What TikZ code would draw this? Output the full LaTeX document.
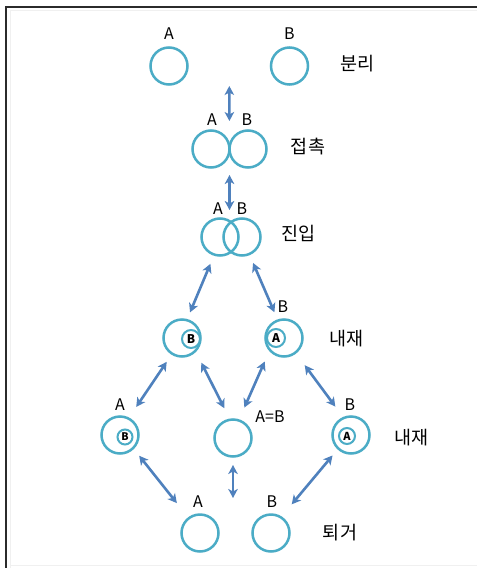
\documentclass[tikz,border=0pt]{standalone}
\usepackage{fontspec}
\setmainfont{Noto Sans CJK KR}
\usetikzlibrary{arrows.meta,calc}
\definecolor{ringc}{HTML}{4BACC6}
\definecolor{arrowc}{HTML}{4F81BD}
\definecolor{framec}{HTML}{2B2B2B}
\tikzset{
  ring/.style={circle, draw=ringc, line width=2.5pt, minimum size=37pt, inner sep=0pt, outer sep=0pt},
  inring/.style={circle, draw=ringc, line width=2pt, inner sep=0pt, outer sep=0pt, font=\fontsize{12}{12}\selectfont\bfseries},
  lbl/.style={font=\fontsize{16}{16}\selectfont, inner sep=0pt},
  kor/.style={font=\fontsize{18.5}{18.5}\selectfont, inner sep=0pt},
  dbl/.style={{Stealth[length=9pt,width=9.5pt,inset=2.5pt]}-{Stealth[length=9pt,width=9.5pt,inset=2.5pt]}, draw=arrowc, line width=2.6pt},
}
\begin{document}
\begin{tikzpicture}[x=1pt,y=-1pt]
\useasboundingbox (0,0) rectangle (477,568);
\fill[white] (0,0) rectangle (477,568);
% page frame
\draw[gray!12, line width=1pt] (10.5,568) -- (10.5,10.5) -- (477,10.5);
\draw[gray!12, line width=1pt] (10.5,565) -- (477,565);
\draw[framec, line width=1.5pt] (6,568) -- (6,7) -- (477,7);

% separated
\node[ring] (sA) at (169,66) {};
\node[ring] (sB) at (289.5,66) {};
\node[lbl] at (169,34) {A};
\node[lbl] at (289.5,34) {B};
\node[kor] at (357.5,64) {분리};
\coordinate (smid) at ($(sA)!.5!(sB)$);

% contact
\node[ring] (cA) at (211,149) {};
\node[ring] (cB) at (248,149) {};
\node[lbl] at (212,120) {A};
\node[lbl] at (247,120) {B};
\node[kor] at (308,147) {접촉};

% intrusion
\node[ring] (iA) at (220,237) {};
\node[ring] (iB) at (242,237) {};
\node[lbl] at (218,209) {A};
\node[lbl] at (242,209) {B};
\node[kor] at (298.5,233) {진입};

% inclusion, upper row
\node[ring] (n1) at (182,338) {};
\node[inring, minimum size=18pt] (n1in) at (191,339) {B};
\node[ring] (n2) at (284,338) {};
\node[inring, minimum size=18pt] (n2in) at (276,338) {A};
\node[lbl] at (283,307) {B};
\node[kor] at (346.5,339) {내재};

% inclusion, lower row
\node[ring] (m1) at (120,435) {};
\node[inring, minimum size=15pt, font=\fontsize{10.5}{10.5}\selectfont\bfseries] (m1in) at (125,437) {B};
\node[lbl] at (120,405) {A};
\node[ring] (m2) at (233,438) {};
\node[lbl] at (270,417) {A=B};
\node[ring] (m3) at (351,435) {};
\node[inring, minimum size=16pt, font=\fontsize{11}{11}\selectfont\bfseries] (m3in) at (347,436) {A};
\node[lbl] at (350,405) {B};
\node[kor] at (411.5,438) {내재};

% withdrawal
\node[ring] (bA) at (200,533) {};
\node[ring] (bB) at (271,533) {};
\node[lbl] at (198,502) {A};
\node[lbl] at (272,502) {B};
\node[kor] at (340,533) {퇴거};

% transitions
\draw[dbl, shorten <=20pt, shorten >=28pt] (smid) -- (cA.east);
\draw[dbl, shorten <=26pt, shorten >=8.5pt] (cA.east) -- (cA.east |- iA.north);
\draw[dbl, shorten <=10pt, shorten >=8.4pt] (iA.-108) -- (n1.75);
\draw[dbl, shorten <=9.7pt, shorten >=9pt] (iB.-67) -- (n2.109);
\draw[dbl, shorten <=9.8pt, shorten >=14pt] (n1.-122) -- (m1.63);
\draw[dbl, shorten <=13.3pt, shorten >=12.9pt] (n1.-44) -- (m2.99);
\draw[dbl, shorten <=12.7pt, shorten >=14pt] (n2.-140) -- (m2.72);
\draw[dbl, shorten <=15.7pt, shorten >=14.2pt] (n2.-52) -- (m3.113);
\draw[dbl, shorten <=9.8pt, shorten >=19.3pt] (m1.-45) -- (bA.127);
\draw[dbl, shorten <=8.5pt, shorten >=16.5pt] (m2.south) -- (m2.south |- bA.north);
\draw[dbl, shorten <=9.1pt, shorten >=17pt] (m3.-133) -- (bB.58);
\end{tikzpicture}
\end{document}
